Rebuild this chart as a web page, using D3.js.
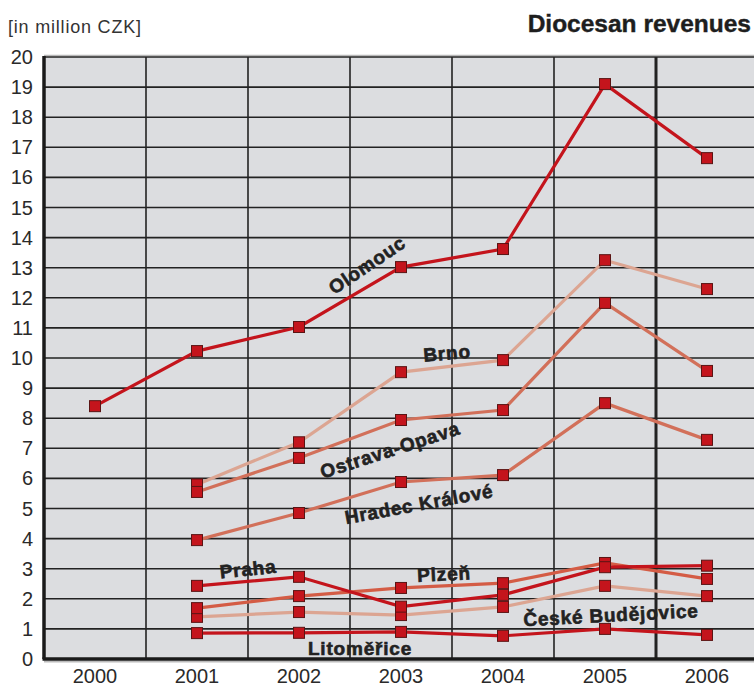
<!DOCTYPE html>
<html>
<head>
<meta charset="utf-8">
<script src="https://cdn.jsdelivr.net/npm/d3@7/dist/d3.min.js"></script>
<style>
  body { margin: 0; background: #fff; }
  svg { display: block; font-family: "Liberation Sans", Arial, sans-serif; }
</style>
</head>
<body>
<script>
// years on the x axis
const years = [2000, 2001, 2002, 2003, 2004, 2005, 2006];
const yTicks = d3.range(0, 21);

// revenues per diocese, million CZK (null = no value)
const olomouc = [8.4, 10.23, 11.03, 13.02, 13.62, 19.1, 16.64];
const brno = [null, 5.8, 7.2, 9.53, 9.93, 13.25, 12.29];
const ostrava = [null, 5.55, 6.68, 7.94, 8.27, 11.83, 9.57];
const hradec = [null, 3.95, 4.85, 5.88, 6.11, 8.5, 7.28];
const praha = [null, 2.43, 2.73, 1.74, 2.13, 3.05, 3.1];
const plzen = [null, 1.69, 2.09, 2.36, 2.52, 3.19, 2.66];
const budejovice = [null, 1.4, 1.56, 1.46, 1.73, 2.43, 2.09];
const litomerice = [null, 0.86, 0.87, 0.9, 0.77, 1.0, 0.8];

const series = [
  { name: 'České Budějovice', values: budejovice, color: '#dca592' },
  { name: 'Brno', values: brno, color: '#dca592' },
  { name: 'Hradec Králové', values: hradec, color: '#d2705a' },
  { name: 'Ostrava-Opava', values: ostrava, color: '#d2705a' },
  { name: 'Plzeň', values: plzen, color: '#d45c45' },
  { name: 'Litoměřice', values: litomerice, color: '#c4141c' },
  { name: 'Praha', values: praha, color: '#c4141c' },
  { name: 'Olomouc', values: olomouc, color: '#c4141c' }
];

// label placement (center x, center y, angle)
const labels = [
  { text: 'Olomouc', x: 367, y: 265, a: -34 },
  { text: 'Brno', x: 447, y: 353, a: -5 },
  { text: 'Ostrava-Opava', x: 390, y: 450, a: -18 },
  { text: 'Hradec Králové', x: 419, y: 504, a: -10.5 },
  { text: 'Praha', x: 248, y: 569, a: -6 },
  { text: 'Plzeň', x: 444, y: 574, a: -3 },
  { text: 'České Budějovice', x: 611, y: 615, a: -3 },
  { text: 'Litoměřice', x: 360, y: 648, a: 0 }
];

const W = 754, H = 687;
const plotLeft = 44, plotTop = 57, plotBottom = 659, colW = 102;

const svg = d3.select('body').append('svg')
  .attr('width', W)
  .attr('height', H);

const x = d3.scaleBand()
  .domain(years)
  .range([plotLeft, plotLeft + colW * years.length]);

const y = d3.scaleLinear()
  .domain([0, 20])
  .range([plotBottom, plotTop]);

// plot background
svg.append('rect')
  .attr('x', plotLeft).attr('y', plotTop)
  .attr('width', W - plotLeft).attr('height', plotBottom - plotTop)
  .attr('fill', '#dcdde0');

// top light edge
svg.append('line')
  .attr('x1', plotLeft).attr('x2', W)
  .attr('y1', plotTop - 1.5).attr('y2', plotTop - 1.5)
  .attr('stroke', '#b8b8b8').attr('stroke-width', 1.5);

// horizontal grid
svg.append('g')
  .selectAll('line')
  .data(yTicks.filter(d => d > 0))
  .join('line')
  .attr('x1', plotLeft).attr('x2', W)
  .attr('y1', d => y(d)).attr('y2', d => y(d))
  .attr('stroke', '#222').attr('stroke-width', 1.6);

// vertical grid at band edges
svg.append('g')
  .selectAll('line')
  .data(years.slice(1))
  .join('line')
  .attr('x1', d => x(d)).attr('x2', d => x(d))
  .attr('y1', plotTop).attr('y2', plotBottom)
  .attr('stroke', '#222')
  .attr('stroke-width', d => d === 2006 ? 3 : 1.6);

// axes lines
svg.append('line')
  .attr('x1', plotLeft).attr('x2', W)
  .attr('y1', plotBottom + 2.5).attr('y2', plotBottom + 2.5)
  .attr('stroke', '#bbb').attr('stroke-width', 2);
svg.append('line')
  .attr('x1', plotLeft - 1.5).attr('x2', W)
  .attr('y1', plotBottom).attr('y2', plotBottom)
  .attr('stroke', '#1a1a1a').attr('stroke-width', 3.5);
svg.append('line')
  .attr('x1', plotLeft).attr('x2', plotLeft)
  .attr('y1', plotTop - 1).attr('y2', plotBottom)
  .attr('stroke', '#1a1a1a').attr('stroke-width', 3.5);

// y tick labels
svg.append('g')
  .selectAll('text')
  .data(yTicks)
  .join('text')
  .attr('x', 33)
  .attr('y', d => y(d) + 7)
  .attr('text-anchor', 'end')
  .attr('font-size', 20)
  .attr('fill', '#2a2a2a')
  .text(d => d);

// x tick labels
svg.append('g')
  .selectAll('text')
  .data(years)
  .join('text')
  .attr('x', d => x(d) + x.bandwidth() / 2)
  .attr('y', 683)
  .attr('text-anchor', 'middle')
  .attr('font-size', 20)
  .attr('fill', '#2a2a2a')
  .text(d => d);

// lines
const line = d3.line()
  .defined(d => d.v !== null)
  .x(d => x(d.year) + x.bandwidth() / 2)
  .y(d => y(d.v));

const toPts = s => years.map((yr, i) => ({ year: yr, v: s.values[i] }));

svg.append('g')
  .selectAll('path')
  .data(series)
  .join('path')
  .attr('d', s => line(toPts(s)))
  .attr('fill', 'none')
  .attr('stroke', s => s.color)
  .attr('stroke-width', 3.2);

// markers
const pts = series.flatMap(s => toPts(s).filter(d => d.v !== null));
const ms = 11;
svg.append('g')
  .selectAll('rect')
  .data(pts)
  .join('rect')
  .attr('x', d => x(d.year) + x.bandwidth() / 2 - ms / 2)
  .attr('y', d => y(d.v) - ms / 2)
  .attr('width', ms).attr('height', ms)
  .attr('fill', '#c4141c')
  .attr('stroke', '#5a1414')
  .attr('stroke-width', 1);

// series labels
svg.append('g')
  .selectAll('text')
  .data(labels)
  .join('text')
  .attr('transform', d => `translate(${d.x},${d.y}) rotate(${d.a})`)
  .attr('text-anchor', 'middle')
  .attr('dy', '0.35em')
  .attr('font-size', 19)
  .attr('font-weight', 'bold')
  .attr('letter-spacing', 0.8)
  .attr('fill', '#222')
  .attr('stroke', '#222')
  .attr('stroke-width', 0.6)
  .text(d => d.text);

// titles
svg.append('text')
  .attr('x', 8).attr('y', 33)
  .attr('font-size', 18)
  .attr('letter-spacing', 0.8)
  .attr('fill', '#333')
  .text('[in million CZK]');

svg.append('text')
  .attr('x', 751).attr('y', 32)
  .attr('text-anchor', 'end')
  .attr('font-size', 24.5)
  .attr('font-weight', 'bold')
  .attr('fill', '#1e1e1e')
  .attr('stroke', '#1e1e1e')
  .attr('stroke-width', 0.4)
  .text('Diocesan revenues');
</script>
</body>
</html>
